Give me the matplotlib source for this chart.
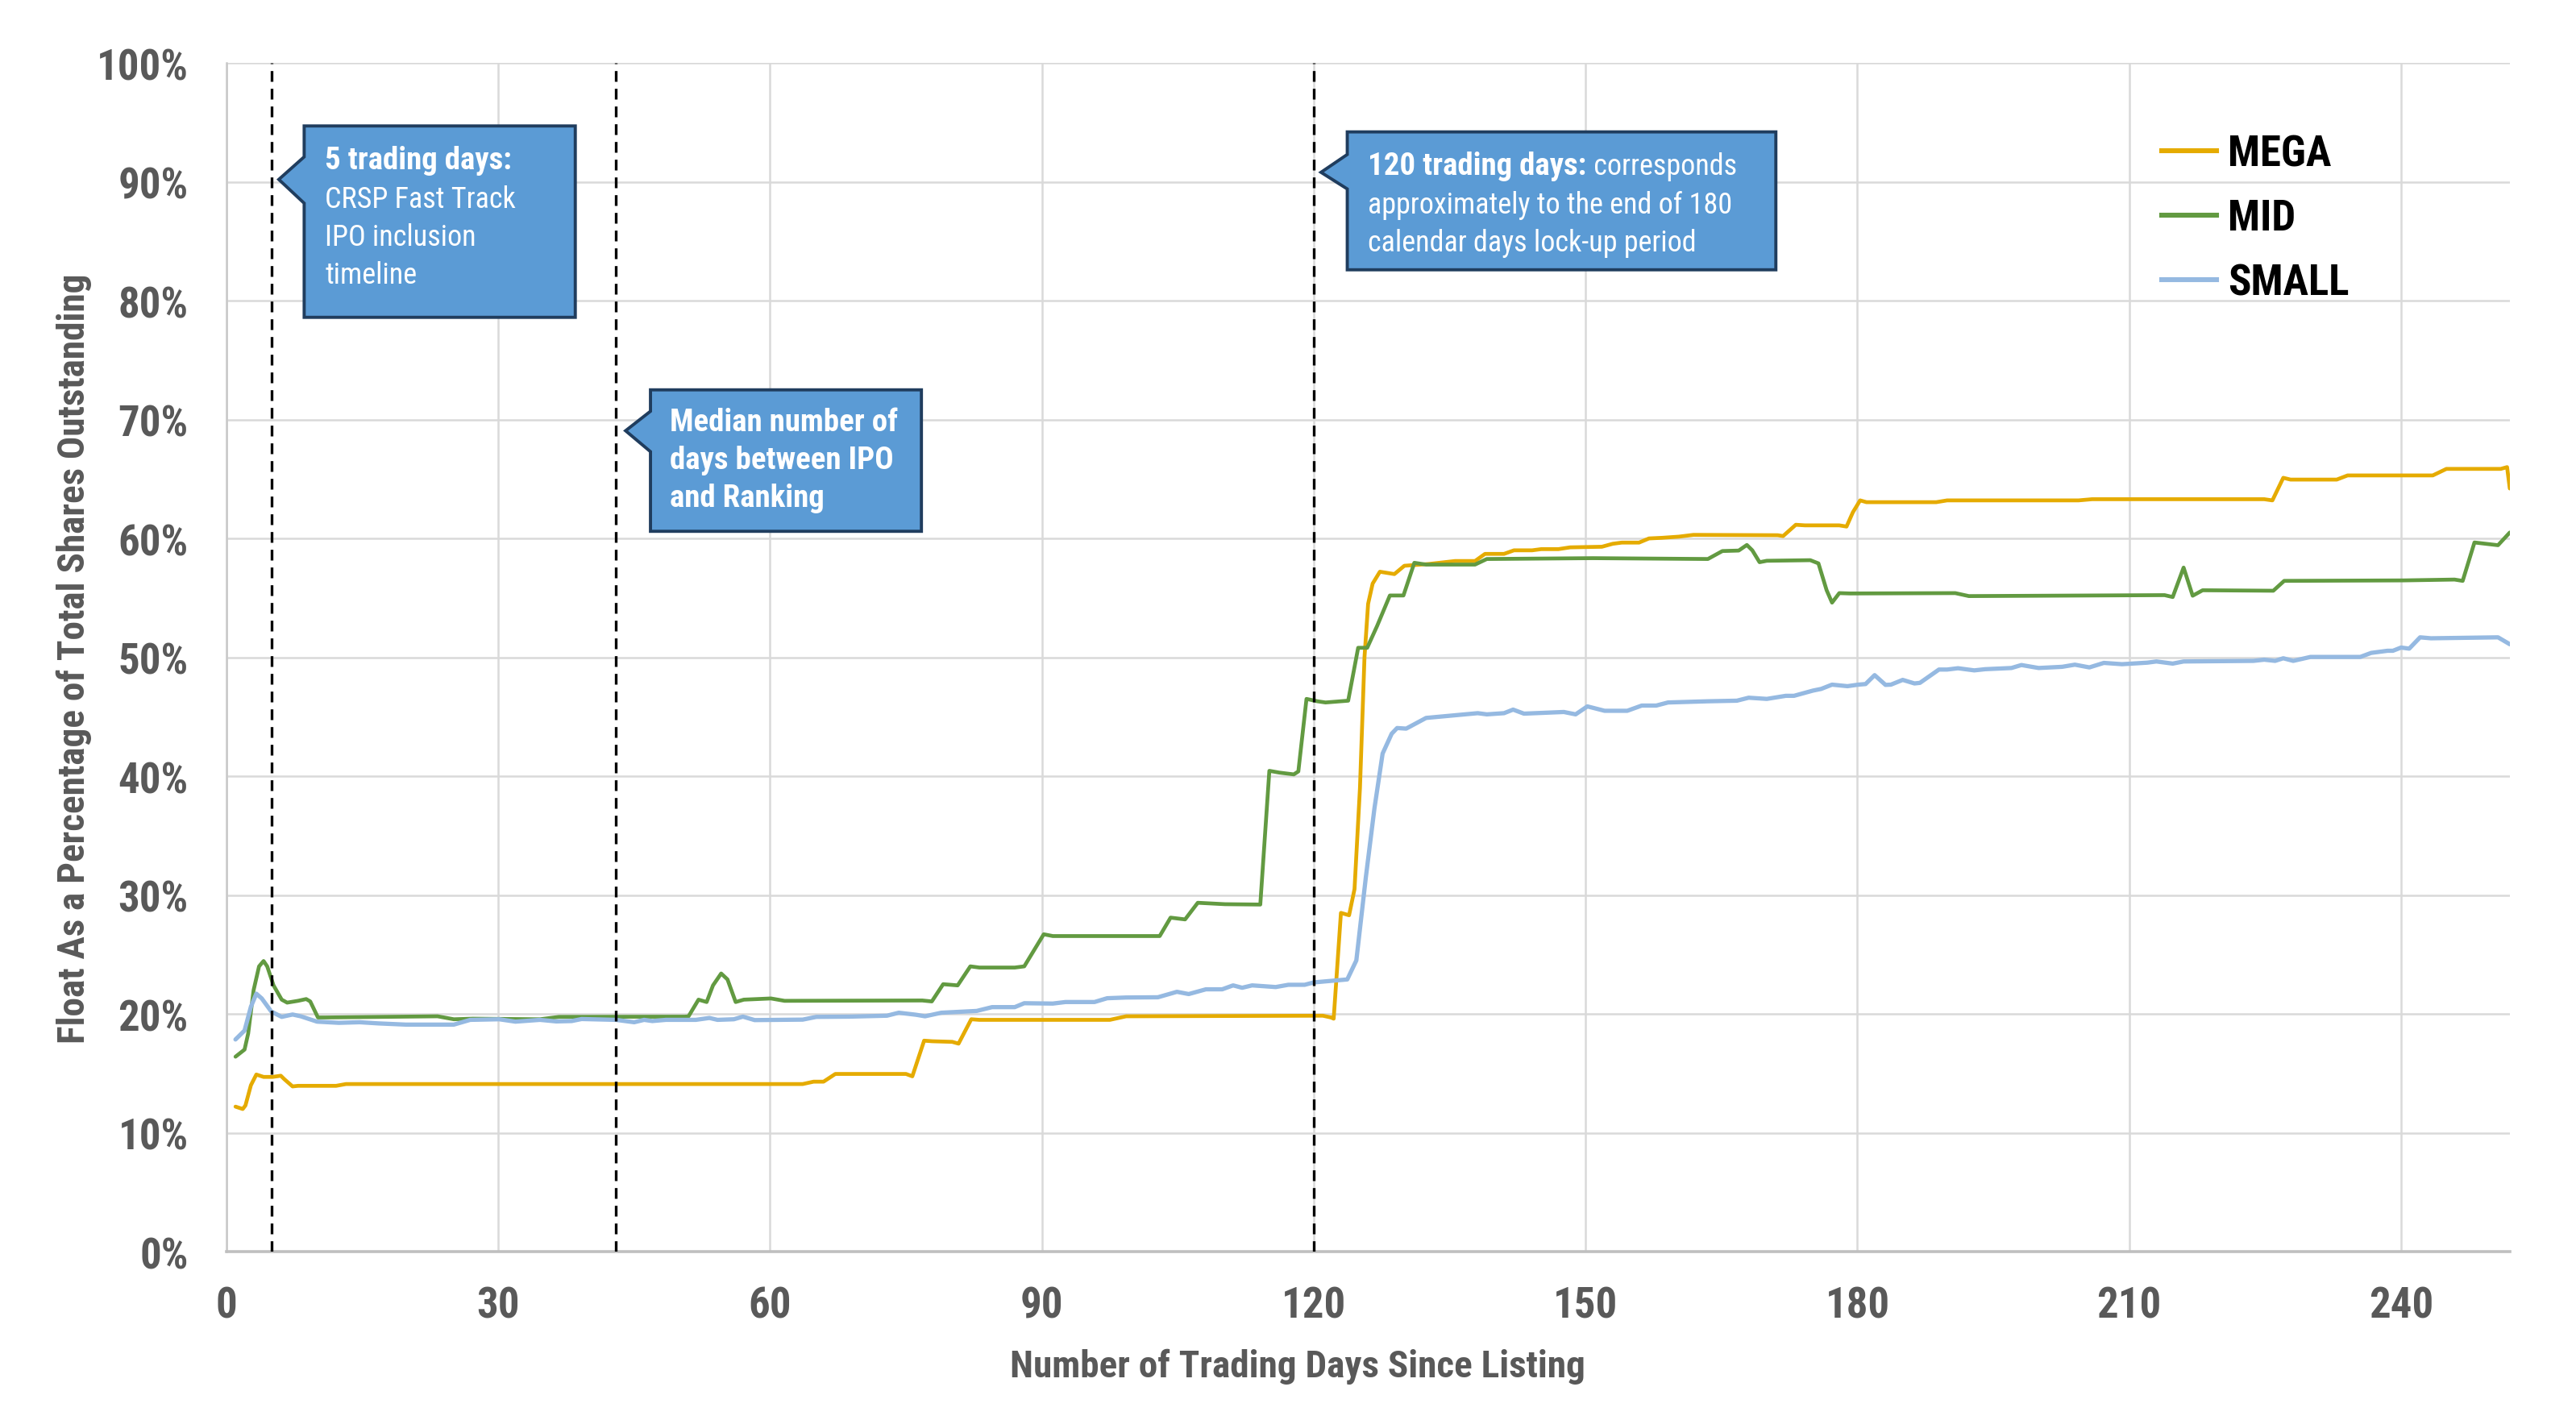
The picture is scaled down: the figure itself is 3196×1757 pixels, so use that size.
import matplotlib
matplotlib.use("Agg")
import matplotlib.pyplot as plt
import matplotlib.font_manager as fm
from matplotlib.patches import Polygon
from matplotlib.lines import Line2D
from matplotlib.ticker import FuncFormatter

# look for a narrow sans face, the original uses a condensed bold font
entries = fm.fontManager.ttflist
names = {f.name for f in entries}
font_name, font_stretch = None, 'normal'
for p in ['Roboto Condensed', 'Liberation Sans Narrow', 'Arial Narrow', 'Open Sans Condensed',
          'Noto Sans Condensed', 'DejaVu Sans Condensed']:
    if p in names:
        font_name = p
        break
if font_name is None:
    cond = [f for f in entries if f.stretch in ('condensed', 'semi-condensed', 'extra-condensed')]
    for p in ['Roboto', 'Noto Sans', 'Open Sans', 'DejaVu Sans', 'Liberation Sans', 'Lato', 'Inter']:
        hits = [f for f in cond if f.name == p]
        if hits:
            font_name, font_stretch = p, hits[0].stretch
            break
    if font_name is None and cond:
        font_name, font_stretch = cond[0].name, cond[0].stretch
narrow = font_name is not None
if not narrow:
    font_name = 'DejaVu Sans'
plt.rcParams['font.family'] = [font_name, 'DejaVu Sans']
plt.rcParams['font.stretch'] = font_stretch
big = 19 if narrow else 16
lab_size = 17 if narrow else 15

# series: trading day, float as % of shares outstanding
mega_days = [1.0, 1.8, 2.1, 2.7, 3.3, 4.1, 5.1, 6.0, 6.4, 7.3, 7.9, 12.1, 13.2, 63.6, 64.8, 65.9,
             67.2, 75.0, 75.7, 77.0, 77.9, 80.1, 80.8, 82.2, 83.1, 97.5, 99.3, 121.0, 121.9, 122.2,
             123.0, 123.9, 124.5, 125.1, 125.6, 126.0, 126.5, 127.3, 128.9, 130.0, 132.7, 135.6,
             137.8, 138.9, 141.0, 142.1, 144.1, 145.1, 147.0, 148.3, 151.8, 153.0, 154.0, 155.9,
             157.0, 158.4, 160.3, 161.9, 171.2, 171.8, 173.2, 174.2, 178.0, 178.8, 179.5, 180.3,
             181.0, 188.7, 189.9, 204.4, 205.9, 224.9, 225.8, 227.0, 227.8, 232.9, 234.1, 243.5,
             245.0, 251.0, 251.7, 252.0]
mega_vals = [12.2, 12.0, 12.3, 14.0, 14.9, 14.7, 14.7, 14.8, 14.5, 13.9, 13.95, 13.95, 14.1, 14.1,
             14.3, 14.3, 14.95, 14.95, 14.75, 17.75, 17.7, 17.65, 17.5, 19.55, 19.5, 19.5, 19.8,
             19.85, 19.7, 19.6, 28.5, 28.3, 30.5, 39.0, 50.0, 54.5, 56.2, 57.2, 57.0, 57.7, 57.85,
             58.1, 58.1, 58.7, 58.7, 59.0, 59.0, 59.1, 59.1, 59.25, 59.3, 59.55, 59.65, 59.65, 60.0,
             60.05, 60.15, 60.3, 60.27, 60.2, 61.15, 61.1, 61.1, 61.0, 62.2, 63.2, 63.05, 63.05,
             63.2, 63.2, 63.3, 63.3, 63.2, 65.1, 64.95, 64.95, 65.3, 65.3, 65.85, 65.85, 66.0, 64.2]

mid_days = [1.0, 2.0, 2.4, 3.0, 3.6, 4.1, 4.5, 5.2, 6.1, 6.7, 7.9, 8.8, 9.25, 10.1, 10.9, 23.3, 25.1,
            27.2, 34.6, 36.7, 50.6, 51.0, 52.1, 53.0, 53.7, 54.6, 55.3, 56.2, 57.1, 60.1, 61.6,
            76.8, 77.85, 79.1, 80.7, 82.1, 83.1, 87.0, 88.05, 90.2, 91.2, 103.0, 104.2, 105.8,
            107.2, 110.2, 114.1, 115.1, 116.2, 117.8, 118.3, 119.2, 120.4, 121.3, 123.8, 124.9,
            125.9, 127.0, 128.4, 129.9, 131.1, 132.4, 137.8, 139.1, 150.8, 163.5, 165.1, 166.9,
            167.8, 168.4, 169.2, 170.0, 174.8, 175.7, 176.6, 177.2, 178.0, 179.2, 190.8, 192.3,
            213.9, 214.8, 216.0, 217.0, 218.1, 225.9, 227.1, 240.3, 245.9, 246.8, 248.1, 250.7, 252.0]
mid_vals = [16.4, 17.0, 18.35, 22.0, 24.0, 24.45, 24.0, 22.4, 21.2, 20.95, 21.1, 21.25, 21.05, 19.7,
            19.7, 19.8, 19.55, 19.6, 19.55, 19.75, 19.77, 19.8, 21.2, 21.0, 22.4, 23.4, 22.9, 21.0,
            21.2, 21.3, 21.1, 21.13, 21.05, 22.5, 22.4, 24.0, 23.9, 23.9, 24.0, 26.7, 26.55, 26.55,
            28.1, 27.95, 29.35, 29.23, 29.2, 40.45, 40.3, 40.15, 40.4, 46.5, 46.3, 46.2, 46.35,
            50.8, 50.8, 52.65, 55.2, 55.2, 57.95, 57.8, 57.8, 58.27, 58.34, 58.27, 58.94, 58.98,
            59.45, 59.0, 58.0, 58.12, 58.17, 57.9, 55.65, 54.6, 55.4, 55.37, 55.4, 55.15, 55.23,
            55.07, 57.55, 55.18, 55.64, 55.6, 56.43, 56.47, 56.54, 56.43, 59.66, 59.43, 60.5]

small_days = [1.0, 2.0, 2.7, 3.3, 3.9, 4.95, 6.1, 7.3, 8.2, 10.0, 12.4, 14.7, 16.8, 19.8, 25.1, 26.9,
              30.1, 31.9, 34.6, 36.4, 38.1, 39.2, 43.0, 45.0, 46.1, 47.0, 48.5, 51.8, 53.3, 54.2,
              56.0, 57.0, 58.3, 63.6, 65.1, 68.7, 72.9, 74.2, 76.1, 77.1, 78.9, 82.8, 84.5, 87.0,
              88.05, 91.2, 92.6, 95.8, 97.2, 99.3, 102.8, 104.9, 106.2, 108.1, 109.9, 111.1, 112.1,
              113.2, 115.8, 117.2, 119.0, 120.0, 123.7, 124.7, 125.75, 126.7, 127.6, 128.6, 129.2,
              130.2, 132.4, 138.1, 139.1, 141.0, 142.0, 143.2, 147.6, 148.9, 150.2, 152.1, 154.6,
              156.2, 157.8, 159.1, 163.5, 166.7, 168.0, 170.0, 172.1, 173.0, 175.1, 176.0, 177.2,
              178.9, 180.1, 180.9, 181.9, 183.1, 183.7, 185.0, 186.3, 186.9, 189.0, 189.9, 191.1,
              192.9, 194.1, 197.0, 198.1, 200.0, 202.6, 204.0, 205.6, 207.2, 209.2, 212.0, 213.0,
              214.8, 216.0, 223.7, 224.9, 226.1, 227.0, 228.1, 230.0, 235.5, 236.7, 238.5, 239.1,
              240.0, 240.9, 242.1, 243.3, 250.7, 252.0]
small_vals = [17.85, 18.6, 20.6, 21.7, 21.3, 20.2, 19.75, 19.95, 19.8, 19.35, 19.25, 19.3, 19.2, 19.1,
              19.1, 19.5, 19.55, 19.35, 19.5, 19.37, 19.4, 19.57, 19.5, 19.3, 19.5, 19.4, 19.5, 19.5,
              19.66, 19.5, 19.55, 19.77, 19.48, 19.52, 19.75, 19.77, 19.85, 20.1, 19.93, 19.8, 20.1,
              20.25, 20.57, 20.57, 20.9, 20.87, 21.0, 21.0, 21.32, 21.38, 21.4, 21.86, 21.67, 22.07,
              22.07, 22.4, 22.2, 22.4, 22.26, 22.45, 22.45, 22.65, 22.9, 24.5, 31.5, 37.3, 41.9,
              43.57, 44.05, 44.0, 44.9, 45.3, 45.2, 45.3, 45.6, 45.26, 45.4, 45.2, 45.87, 45.5, 45.5,
              45.94, 45.94, 46.2, 46.3, 46.35, 46.6, 46.5, 46.76, 46.76, 47.2, 47.34, 47.7, 47.57,
              47.7, 47.75, 48.5, 47.68, 47.7, 48.1, 47.8, 47.85, 48.97, 48.97, 49.08, 48.9, 49.0,
              49.1, 49.35, 49.1, 49.2, 49.38, 49.15, 49.53, 49.42, 49.55, 49.65, 49.47, 49.65, 49.7,
              49.8, 49.7, 49.92, 49.7, 50.03, 50.03, 50.37, 50.55, 50.55, 50.82, 50.73, 51.68, 51.6,
              51.68, 51.1]

series_names = ["MEGA", "MID", "SMALL"]
series_colors = ["#E5AB00", "#629A41", "#95B9E1"]

marker_days = [5, 43, 120]
x_ticks = [0, 30, 60, 90, 120, 150, 180, 210, 240]

gray = "#595959"
box_face = "#5B9BD5"
box_edge = "#203D5E"

fig = plt.figure(figsize=(15.98, 8.79), dpi=200)
ax = fig.add_axes([0.0879, 0.116, 0.8864, 0.839])

for days, vals, c, lw in zip([mega_days, mid_days, small_days],
                             [mega_vals, mid_vals, small_vals],
                             series_colors, [1.7, 1.7, 1.9]):
    ax.plot(days, [v / 100 for v in vals], color=c, lw=lw, zorder=3,
            solid_joinstyle='round', solid_capstyle='round')

for d in marker_days:
    ax.axvline(d, color='black', lw=1.2, ls=(0, (4, 2.6)), zorder=4)

ax.set_xlim(0, 252)
ax.set_ylim(0, 1)
ax.set_xticks(x_ticks)
ax.set_yticks([i / 10 for i in range(11)])
ax.yaxis.set_major_formatter(FuncFormatter(lambda v, p: f"{v:.0%}"))
ax.tick_params(length=0, labelsize=big, labelcolor=gray)
ax.tick_params(axis='y', pad=17)
ax.tick_params(axis='x', pad=15)
for lab in ax.get_xticklabels() + ax.get_yticklabels():
    lab.set_fontweight('bold')
ax.grid(True, color='#D9D9D9', lw=0.9, zorder=0)
ax.set_axisbelow(True)
for s in ['top', 'right']:
    ax.spines[s].set_visible(False)
ax.spines['left'].set_color('#C8C8C8')
ax.spines['left'].set_linewidth(0.9)
ax.spines['bottom'].set_color('#BFBFBF')
ax.spines['bottom'].set_linewidth(1.3)

fig.text(0.5038, 0.0353, "Number of Trading Days Since Listing", ha='center', va='center',
         fontsize=lab_size, fontweight='bold', color=gray)
fig.text(0.0288, 0.535, "Float As a Percentage of Total Shares Outstanding", ha='center',
         va='center', rotation=90, fontsize=lab_size, fontweight='bold', color=gray)


def callout(x0, x1, ytop, ybot, base_hi, base_lo, tip):
    pts = [(x0, ytop), (x1, ytop), (x1, ybot), (x0, ybot), (x0, base_lo), tip, (x0, base_hi)]
    ax.add_patch(Polygon(pts, closed=True, facecolor=box_face, edgecolor=box_edge,
                         lw=1.4, zorder=5, joinstyle='miter'))


callout(8.58, 38.5, 0.947, 0.786, 0.921, 0.882, (5.78, 0.902))
callout(46.8, 76.7, 0.725, 0.606, 0.707, 0.673, (44.05, 0.6906))
callout(123.7, 171.0, 0.942, 0.826, 0.923, 0.894, (120.8, 0.908))

bkw = dict(color='white', fontsize=14, fontweight='bold', va='baseline', ha='left', zorder=6)
tkw = dict(color='white', fontsize=13, va='baseline', ha='left', zorder=6)
box1 = [ax.text(10.88, 0.911, "5 trading days:", **bkw),
        ax.text(10.88, 0.879, "CRSP Fast Track", **tkw),
        ax.text(10.88, 0.847, "IPO inclusion", **tkw),
        ax.text(10.88, 0.815, "timeline", **tkw)]

box2 = [ax.text(48.9, 0.691, "Median number of", **bkw),
        ax.text(48.9, 0.659, "days between IPO", **bkw),
        ax.text(48.9, 0.627, "and Ranking", **bkw)]

t1 = ax.text(126.0, 0.9064, "120 trading days:", **bkw)
t1b = ax.annotate(" corresponds", xy=(1, 0), xycoords=t1, va='bottom', ha='left',
                  color='white', fontsize=13, zorder=6)
box3 = [t1, t1b,
        ax.text(126.0, 0.874, "approximately to the end of 180", **tkw),
        ax.text(126.0, 0.842, "calendar days lock-up period", **tkw)]

handles = [Line2D([], [], color=c, lw=2.2) for c in series_colors]
leg = ax.legend(handles, series_names, loc='upper left', bbox_to_anchor=(0.8475, 0.941),
                frameon=False, handlelength=1.3, handletextpad=0.25, labelspacing=0.55,
                borderaxespad=0, borderpad=0, prop={'size': big, 'weight': 'bold'})
for t in leg.get_texts():
    t.set_color('black')

# shrink the callout text if the font in use is too wide for the boxes
fig.canvas.draw()
rend = fig.canvas.get_renderer()
for texts, x_right in [(box1, 38.5), (box2, 76.7), (box3, 171.0)]:
    x_lim = ax.transData.transform((x_right, 0))[0] - 12
    x_left = ax.transData.transform((texts[0].get_position()[0], 0))[0]
    widest = max(t.get_window_extent(rend).x1 for t in texts)
    if widest > x_lim:
        k = (x_lim - x_left) / (widest - x_left)
        for t in texts:
            t.set_fontsize(t.get_fontsize() * k)

fig.savefig("out.png", dpi=200)
